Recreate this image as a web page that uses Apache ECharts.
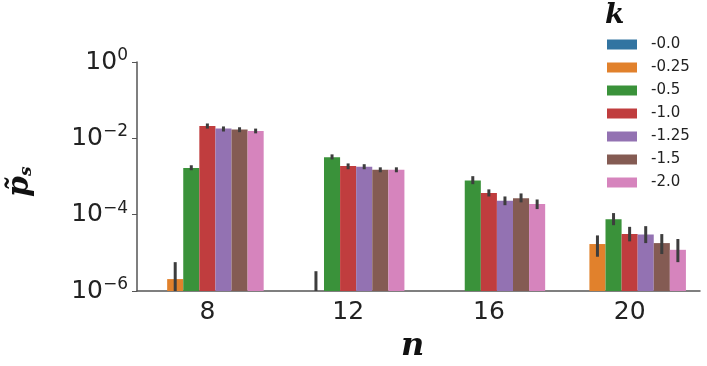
<!DOCTYPE html>
<html>
<head>
<meta charset="utf-8">
<script src="https://cdn.jsdelivr.net/npm/echarts@6/dist/echarts.min.js"></script>
<style>
  html, body { margin: 0; padding: 0; background: #fff; }
  #chart { width: 707px; height: 366px; }
</style>
</head>
<body>
<div id="chart"></div>
<script>
// n values on the x axis
const categories = ["8", "12", "16", "20"];
// hue levels (k)
const kLabels = ["-0.0", "-0.25", "-0.5", "-1.0", "-1.25", "-1.5", "-2.0"];
const kColors = ["#3274a1", "#e1812c", "#3a923a", "#c03d3e", "#9372b2", "#845b53", "#d684bd"];

// bar heights per k, one value per n
const k00 = [null, null, null, null];
const k025 = [2.05e-6, null, null, 1.7e-5];
const k05 = [1.66e-3, 3.2e-3, 7.9e-4, 7.6e-5];
const k10 = [0.021, 1.87e-3, 3.7e-4, 3.1e-5];
const k125 = [0.018, 1.8e-3, 2.3e-4, 3.0e-5];
const k15 = [0.017, 1.5e-3, 2.7e-4, 1.8e-5];
const k20 = [0.0155, 1.5e-3, 1.9e-4, 1.2e-5];

// error bar ranges (low / high)
const errLo025 = [1e-6, 1e-6, null, 7.9e-6];
const errHi025 = [5.7e-6, 3.3e-6, null, 2.86e-5];
const errLo05 = [1.46e-3, 2.8e-3, 6.3e-4, 5.3e-5];
const errHi05 = [1.97e-3, 3.8e-3, 1.02e-3, 1.1e-4];
const errLo10 = [0.018, 1.55e-3, 3.0e-4, 2.0e-5];
const errHi10 = [0.0245, 2.2e-3, 4.6e-4, 4.8e-5];
const errLo125 = [0.0151, 1.55e-3, 1.77e-4, 1.8e-5];
const errHi125 = [0.0205, 2.1e-3, 3.0e-4, 5.0e-5];
const errLo15 = [0.0145, 1.29e-3, 2.1e-4, 9.3e-6];
const errHi15 = [0.0195, 1.74e-3, 3.6e-4, 3.1e-5];
const errLo20 = [0.0135, 1.29e-3, 1.4e-4, 5.7e-6];
const errHi20 = [0.018, 1.74e-3, 2.5e-4, 2.3e-5];

const barValues = [k00, k025, k05, k10, k125, k15, k20];
const errLo = [null, errLo025, errLo05, errLo10, errLo125, errLo15, errLo20];
const errHi = [null, errHi025, errHi05, errHi10, errHi125, errHi15, errHi20];

// flatten error bars into [catIndex, hueIndex, lo, hi]
const errData = [];
errLo.forEach((lo, h) => {
  if (!lo) return;
  lo.forEach((v, i) => {
    if (v != null && errHi[h][i] != null) errData.push([i, h, v, errHi[h][i]]);
  });
});

const chart = echarts.init(document.getElementById("chart"), null, { renderer: "canvas" });

const font = "DejaVu Sans";
const yMin = 1e-6;
const nHue = kLabels.length;

// seaborn style dodge: 80% of the band, split in equal bars
function hueOffset(api, h) {
  const bandW = api.size([1, 1])[0];
  const w = bandW * 0.8 / nHue;
  return { off: (h - (nHue - 1) / 2) * w, w: w };
}

// log axis bars in ECharts start at 1, so bars are drawn from yMin with custom series
const barSeries = barValues.map((vals, h) => ({
  name: kLabels[h],
  type: "custom",
  data: vals.map((v, i) => [i, v == null ? "-" : v]),
  itemStyle: { color: kColors[h] },
  encode: { x: 0, y: 1 },
  renderItem: (params, api) => {
    const v = api.value(1);
    if (!(v > 0)) return null;
    const o = hueOffset(api, h);
    const top = api.coord([api.value(0), v]);
    const base = api.coord([api.value(0), yMin]);
    return {
      type: "rect",
      shape: { x: top[0] + o.off - o.w / 2, y: top[1], width: o.w, height: base[1] - top[1] },
      style: { fill: kColors[h] },
    };
  },
}));

const option = {
  animation: false,
  grid: { left: 137, right: 7, top: 62, bottom: 75 },
  legend: {
    orient: "vertical",
    left: 607,
    top: 37,
    padding: 0,
    itemWidth: 30,
    itemHeight: 10,
    itemGap: 8,
    icon: "rect",
    data: kLabels,
    textStyle: { fontFamily: font, fontSize: 15, color: "#222", padding: [0, 0, 0, 9] },
  },
  xAxis: {
    type: "category",
    data: categories,
    axisLine: { lineStyle: { color: "#555", width: 1.5 } },
    axisTick: { alignWithLabel: true, length: 5, lineStyle: { color: "#555" } },
    axisLabel: { fontFamily: font, fontSize: 25, color: "#222", margin: 9 },
  },
  yAxis: {
    type: "log",
    logBase: 10,
    min: yMin,
    max: 1,
    interval: 2,
    splitLine: { show: false },
    axisLine: { show: true, lineStyle: { color: "#555", width: 1.5 } },
    axisTick: { show: true, length: 5, lineStyle: { color: "#555" } },
    axisLabel: {
      margin: 9,
      formatter: (v) => {
        const e = Math.round(Math.log10(v));
        return "{b|10}{s|" + (e < 0 ? "\u2212" + (-e) : e) + "}";
      },
      rich: {
        b: { fontFamily: font, fontSize: 25, color: "#222", lineHeight: 26 },
        s: { fontFamily: font, fontSize: 17, color: "#222", lineHeight: 30, verticalAlign: "top" },
      },
    },
  },
  graphic: [
    {
      type: "text",
      left: 605,
      top: 2,
      style: { text: "k", fontFamily: "DejaVu Serif", fontStyle: "italic", fontWeight: "bold", fontSize: 28, fill: "#111" },
    },
    {
      type: "text",
      x: 5,
      y: 197,
      rotation: Math.PI / 2,
      style: {
        text: "{p|p\u0303}{s|s}",
        rich: {
          p: { fontFamily: "DejaVu Serif", fontStyle: "italic", fontWeight: "bold", fontSize: 30, fill: "#111" },
          s: { fontFamily: "DejaVu Serif", fontStyle: "italic", fontWeight: "bold", fontSize: 17, fill: "#111", verticalAlign: "bottom" },
        },
      },
    },
    {
      type: "text",
      left: 401,
      top: 331,
      style: { text: "n", fontFamily: "DejaVu Serif", fontStyle: "italic", fontWeight: "bold", fontSize: 32, fill: "#111" },
    },
  ],
  series: barSeries.concat([
    {
      type: "custom",
      data: errData,
      z: 10,
      encode: { x: 0, y: [2, 3] },
      renderItem: (params, api) => {
        const cat = api.value(0);
        const o = hueOffset(api, api.value(1));
        const p1 = api.coord([cat, api.value(2)]);
        const p2 = api.coord([cat, api.value(3)]);
        return {
          type: "line",
          shape: { x1: p1[0] + o.off, y1: p1[1], x2: p2[0] + o.off, y2: p2[1] },
          style: { stroke: "#3d3d3d", lineWidth: 3 },
        };
      },
    },
  ]),
};

chart.setOption(option);
</script>
</body>
</html>
